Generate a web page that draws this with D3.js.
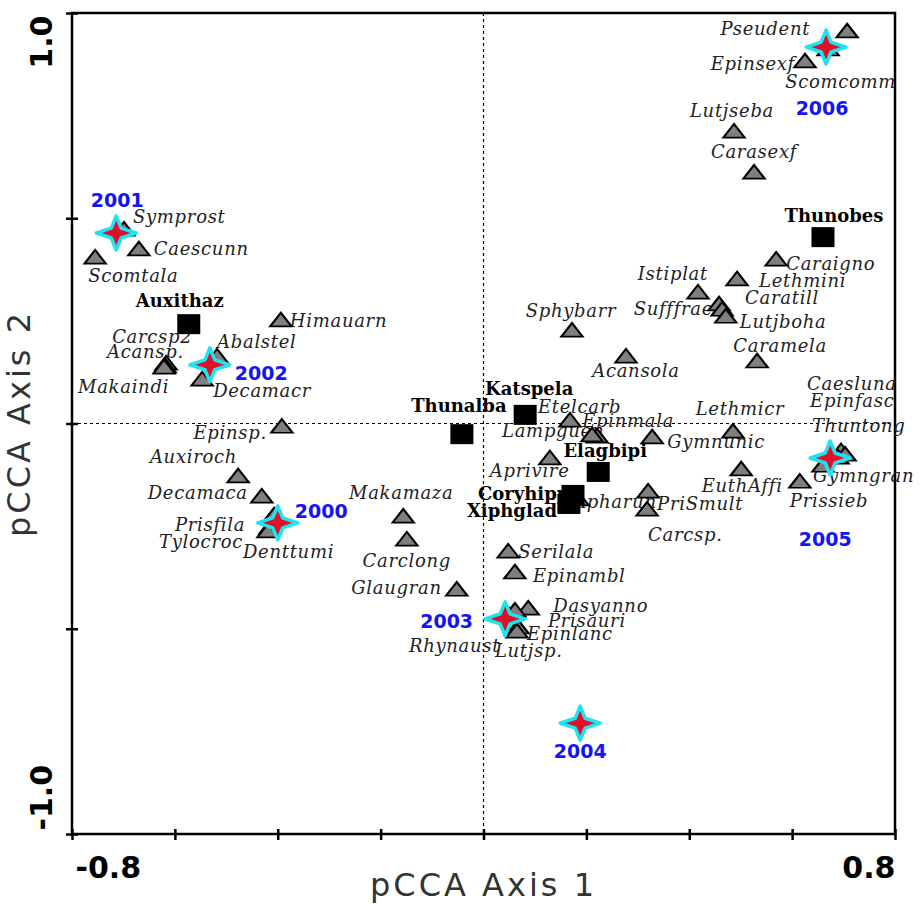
<!DOCTYPE html>
<html>
<head>
<meta charset="utf-8">
<script src="https://cdn.jsdelivr.net/npm/d3@7"></script>
<style>
  html, body { margin: 0; padding: 0; background: #fff; }
  svg { display: block; }
</style>
</head>
<body>
<svg id="chart" width="921" height="904"></svg>
<script>
// ---- axis ticks ----
const axis1Ticks = [-0.8, -0.6, -0.4, -0.2, 0, 0.2, 0.4, 0.6, 0.8];
const axis2Ticks = [-1.0, -0.5, 0, 0.5, 1.0];
const axis1Labelled = [-0.8, 0.8];
const axis2Labelled = [-1.0, 1.0];
const axis1Title = "pCCA Axis 1";
const axis2Title = "pCCA Axis 2";

// ---- species scores ----
const speciesNames = ["Symprost","Caescunn","Scomtala","Carcsp2","Acansp.","Makaindi","Abalstel","Decamacr",
  "Himauarn","Epinsp.","Auxiroch","Decamaca","Prisfila","Tylocroc","Denttumi","Makamaza","Carclong",
  "Glaugran","Rhynaust","Serilala","Epinambl","Dasyanno","Prisauri","Epinlanc","Lutjsp.","Pseudent",
  "Epinsexf","Scomcomm","Lutjseba","Carasexf","Caraigno","Lethmini","Istiplat","Caratill","Sufffrae",
  "Lutjboha","Sphybarr","Acansola","Caramela","Caesluna","Epinfasc","Thuntong","Gymngran","Prissieb",
  "Lethmicr","Gymnunic","EuthAffi","PriSmult","Carcsp.","Apharun","Etelcarb","Epinmala","Lampguen","Aprivire"];
const speciesAxis1 = [-0.699,-0.670,-0.755,-0.617,-0.619,-0.621,-0.518,-0.547,
  -0.394,-0.392,-0.477,-0.431,-0.407,-0.415,-0.419,-0.156,-0.149,
  -0.052,0.050,0.048,0.061,0.087,0.061,0.067,0.065,0.707,
  0.625,0.670,0.487,0.526,0.569,0.493,0.417,0.458,0.464,
  0.471,0.172,0.277,0.532,0.695,0.703,0.689,0.660,0.615,
  0.485,0.328,0.501,0.320,0.318,0.184,0.168,0.221,0.211,0.129];
const speciesAxis2 = [0.471,0.423,0.403,0.145,0.138,0.135,0.162,0.106,
  0.250,-0.009,-0.130,-0.179,-0.225,-0.255,-0.264,-0.228,-0.284,
  -0.406,-0.469,-0.313,-0.364,-0.452,-0.457,-0.498,-0.508,0.954,
  0.881,0.910,0.710,0.610,0.398,0.350,0.318,0.289,0.276,
  0.259,0.225,0.162,0.150,-0.069,-0.077,-0.084,-0.104,-0.143,
  -0.021,-0.035,-0.113,-0.167,-0.211,-0.186,0.006,-0.033,-0.030,-0.086];

// ---- site (environmental) scores ----
const siteNames = ["Auxithaz","Thunobes","Katspela","Thunalba","Elagbipi","Coryhipp","Xiphglad"];
const siteAxis1 = [-0.573, 0.660, 0.081, -0.042, 0.223, 0.174, 0.166];
const siteAxis2 = [0.242, 0.454, 0.021, -0.026, -0.118, -0.174, -0.196];

// ---- sampling years ----
const yearNames = ["2000","2001","2002","2003","2004","2005","2006"];
const yearAxis1 = [-0.400, -0.714, -0.532, 0.042, 0.188, 0.674, 0.666];
const yearAxis2 = [-0.242, 0.464, 0.143, -0.476, -0.730, -0.084, 0.917];

// label placement: [dx, dy, text-anchor] in pixels relative to the marker
const labelLayout = {
  "Symprost":[9,-7,"start"], "Caescunn":[15,5,"start"], "Scomtala":[-7,24,"start"],
  "Carcsp2":[-54,-21,"start"], "Acansp.":[-58,-9,"start"], "Makaindi":[-86,25,"start"],
  "Abalstel":[0,-9,"start"], "Decamacr":[11,17,"start"], "Himauarn":[9,6,"start"],
  "Epinsp.":[-15,12,"end"], "Auxiroch":[-1,-14,"end"], "Decamaca":[-14,2,"end"],
  "Prisfila":[-29,15,"end"], "Tylocroc":[-27,20,"end"], "Denttumi":[-25,26,"start"],
  "Makamaza":[-2,-18,"middle"], "Carclong":[0,27,"middle"], "Glaugran":[-15,4,"end"],
  "Rhynaust":[-9,36,"end"], "Serilala":[10,6,"start"], "Epinambl":[18,9,"start"],
  "Dasyanno":[25,3,"start"], "Prisauri":[33,16,"start"], "Epinlanc":[9,12,"start"],
  "Lutjsp.":[-22,25,"start"], "Pseudent":[-37,3,"end"], "Epinsexf":[-10,8,"end"],
  "Scomcomm":[-43,38,"start"], "Lutjseba":[-2,-15,"middle"], "Carasexf":[0,-15,"middle"],
  "Caraigno":[10,10,"start"], "Lethmini":[22,7,"start"], "Istiplat":[10,-13,"end"],
  "Caratill":[26,-1,"start"], "Sufffrae":[-9,5,"end"], "Lutjboha":[14,11,"start"],
  "Sphybarr":[-1,-14,"middle"], "Acansola":[10,20,"middle"], "Caramela":[23,-10,"middle"],
  "Caesluna":[-34,-62,"start"], "Epinfasc":[-35,-48,"start"], "Thuntong":[-26,-26,"start"],
  "Gymngran":[-10,16,"start"], "Prissieb":[-10,25,"start"], "Lethmicr":[7,-17,"middle"],
  "Gymnunic":[15,10,"start"], "EuthAffi":[1,22,"middle"], "PriSmult":[9,18,"start"],
  "Carcsp.":[1,31,"start"], "Apharun":[-5,8,"start"], "Etelcarb":[-32,-8,"start"],
  "Epinmala":[-15,-10,"start"], "Lampguen":[-90,1,"start"], "Aprivire":[-60,18,"start"],
  // sites
  "Auxithaz":[-9,-17,"middle"], "Thunobes":[11,-15,"middle"], "Katspela":[4,-20,"middle"],
  "Thunalba":[-3,-22,"middle"], "Elagbipi":[7,-15,"middle"], "Coryhipp":[-95,5,"start"],
  "Xiphglad":[-102,13,"start"],
  // years
  "2000":[17,-5,"start"], "2001":[1,-26,"middle"], "2002":[25,15,"start"],
  "2003":[-32,9,"end"], "2004":[0,35,"middle"], "2005":[-5,88,"middle"], "2006":[-4,68,"middle"]
};

// ---- build records ----
const species = speciesNames.map((n, i) => ({name: n, a1: speciesAxis1[i], a2: speciesAxis2[i]}));
const sites = siteNames.map((n, i) => ({name: n, a1: siteAxis1[i], a2: siteAxis2[i]}));
const years = yearNames.map((n, i) => ({name: n, a1: yearAxis1[i], a2: yearAxis2[i]}));

const svg = d3.select("#chart");
const plot = {left: 72, right: 895, top: 13, bottom: 834};

const x = d3.scaleLinear().domain([-0.8, 0.8]).range([plot.left, plot.right]);
const y = d3.scaleLinear().domain([-1.0, 1.0]).range([plot.bottom, plot.top]);

svg.append("rect").attr("width", 921).attr("height", 904).attr("fill", "#fff");

// zero reference lines
svg.append("line")
  .attr("x1", x(0)).attr("x2", x(0)).attr("y1", plot.top).attr("y2", plot.bottom)
  .attr("stroke", "#000").attr("stroke-width", 1.2).attr("stroke-dasharray", "3,3");
svg.append("line")
  .attr("x1", plot.left).attr("x2", plot.right).attr("y1", y(0)).attr("y2", y(0))
  .attr("stroke", "#000").attr("stroke-width", 1.2).attr("stroke-dasharray", "3,3");

// frame
svg.append("rect")
  .attr("x", plot.left).attr("y", plot.top)
  .attr("width", plot.right - plot.left).attr("height", plot.bottom - plot.top)
  .attr("fill", "none").attr("stroke", "#000").attr("stroke-width", 2.5);

// axes (plain hyphen for negative tick labels)
const fmt = d => d3.format(".1f")(d).replace("\u2212", "-");
const isLabelled = (list, d) => list.some(v => Math.abs(v - d) < 1e-9);

const xAxis = svg.append("g")
  .attr("transform", `translate(0,${plot.bottom})`)
  .call(d3.axisBottom(x).tickValues(axis1Ticks).tickSize(6).tickPadding(16)
    .tickFormat(d => isLabelled(axis1Labelled, d) ? fmt(d) : ""));
xAxis.select(".domain").remove();
xAxis.selectAll(".tick line").attr("y1", -5).attr("stroke", "#000").attr("stroke-width", 2.5);
xAxis.selectAll(".tick text")
  .attr("font-family", "'DejaVu Sans', sans-serif").attr("font-weight", "bold")
  .attr("font-size", 30).attr("fill", "#000").attr("dy", "0.72em")
  .attr("text-anchor", d => d < 0 ? "start" : "end")
  .attr("dx", d => d < 0 ? 3 : 0);

const yAxis = svg.append("g")
  .attr("transform", `translate(${plot.left},0)`)
  .call(d3.axisLeft(y).tickValues(axis2Ticks).tickSize(6)
    .tickFormat(d => isLabelled(axis2Labelled, d) ? fmt(d) : ""));
yAxis.select(".domain").remove();
yAxis.selectAll(".tick line").attr("x1", 6).attr("stroke", "#000").attr("stroke-width", 2.5);
yAxis.selectAll(".tick text")
  .attr("font-family", "'DejaVu Sans', sans-serif").attr("font-weight", "bold")
  .attr("font-size", 30).attr("fill", "#000")
  .attr("x", null).attr("dy", null)
  .attr("transform", d => `translate(-20,${d > 0 ? 2 : -4}) rotate(-90)`)
  .attr("text-anchor", d => d > 0 ? "end" : "start");

// axis titles
svg.append("text")
  .attr("x", (plot.left + plot.right) / 2).attr("y", 896)
  .attr("text-anchor", "middle")
  .attr("font-family", "'DejaVu Sans', sans-serif").attr("font-size", 32)
  .attr("letter-spacing", 3).attr("fill", "#333")
  .text(axis1Title);
svg.append("text")
  .attr("transform", `translate(30,${(plot.top + plot.bottom) / 2}) rotate(-90)`)
  .attr("text-anchor", "middle")
  .attr("font-family", "'DejaVu Sans', sans-serif").attr("font-size", 32)
  .attr("letter-spacing", 3).attr("fill", "#333")
  .text(axis2Title);

const lay = n => labelLayout[n] || [0, 0, "start"];

// species labels (drawn under the markers)
svg.append("g").selectAll("text").data(species).join("text")
  .attr("x", d => x(d.a1) + lay(d.name)[0])
  .attr("y", d => y(d.a2) + lay(d.name)[1])
  .attr("text-anchor", d => lay(d.name)[2])
  .attr("font-family", "'DejaVu Serif', serif").attr("font-style", "italic")
  .attr("font-size", 18).attr("letter-spacing", 0.7).attr("fill", "#222")
  .text(d => d.name);

// site labels
svg.append("g").selectAll("text").data(sites).join("text")
  .attr("x", d => x(d.a1) + lay(d.name)[0])
  .attr("y", d => y(d.a2) + lay(d.name)[1])
  .attr("text-anchor", d => lay(d.name)[2])
  .attr("font-family", "'DejaVu Serif', serif").attr("font-weight", "bold")
  .attr("font-size", 18).attr("fill", "#000")
  .text(d => d.name);

// species triangles
const tri = d3.symbol().type(d3.symbolTriangle).size(150);
svg.append("g").selectAll("path").data(species).join("path")
  .attr("transform", d => `translate(${x(d.a1)},${y(d.a2) + 1}) scale(1.15,0.85)`)
  .attr("d", tri)
  .attr("fill", "#7f7f7f").attr("stroke", "#000").attr("stroke-width", 2);

// site squares
svg.append("g").selectAll("rect").data(sites).join("rect")
  .attr("x", d => x(d.a1) - 11.5).attr("y", d => y(d.a2) - 10)
  .attr("width", 23).attr("height", 20)
  .attr("fill", "#000");

// year stars: four-pointed sparkle
function starPath(rx, ry, r) {
  const pts = [];
  for (let k = 0; k < 8; k++) {
    const a = k * Math.PI / 4;
    const outer = k % 2 === 0;
    pts.push([Math.cos(a) * (outer ? rx : r), Math.sin(a) * (outer ? ry : r)]);
  }
  return d3.line().curve(d3.curveLinearClosed)(pts);
}
const star = starPath(20, 17, 7);
svg.append("g").selectAll("path").data(years).join("path")
  .attr("transform", d => `translate(${x(d.a1)},${y(d.a2)})`)
  .attr("d", star)
  .attr("fill", "#e0102a").attr("stroke", "#1fe3ee").attr("stroke-width", 3.5)
  .attr("stroke-linejoin", "round");

// year labels
svg.append("g").selectAll("text").data(years).join("text")
  .attr("x", d => x(d.a1) + lay(d.name)[0])
  .attr("y", d => y(d.a2) + lay(d.name)[1])
  .attr("text-anchor", d => lay(d.name)[2])
  .attr("font-family", "'DejaVu Sans', sans-serif").attr("font-weight", "bold")
  .attr("font-size", 19).attr("fill", "#1414f5")
  .text(d => d.name);
</script>
</body>
</html>
